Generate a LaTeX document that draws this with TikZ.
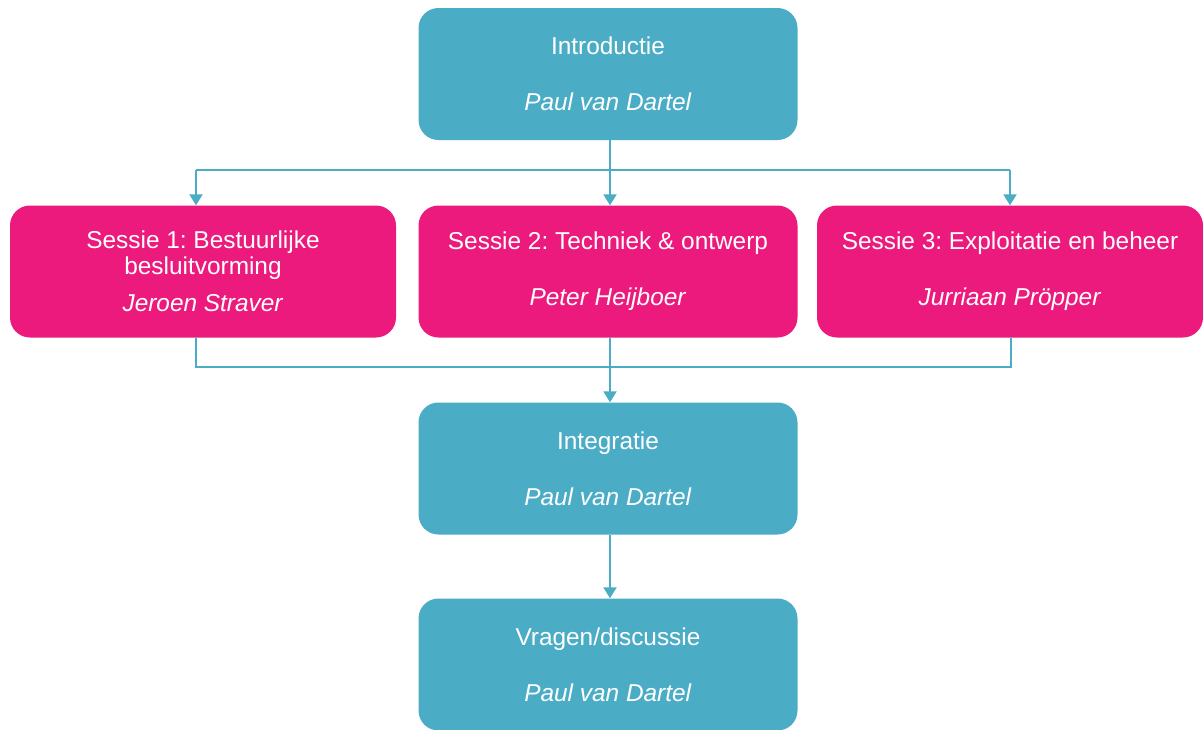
\documentclass[tikz,border=0pt]{standalone}
\usepackage{fontspec}
\setmainfont{Liberation Sans}
\usetikzlibrary{arrows.meta}
\definecolor{tealbox}{RGB}{75,172,198}
\definecolor{pinkbox}{RGB}{236,26,124}
\frenchspacing
\begin{document}
\begin{tikzpicture}[x=1pt,y=-1pt,
  box/.style={rounded corners=20pt, minimum width=379pt, minimum height=132pt,
    text=white, align=center, font=\fontsize{24.4}{26}\selectfont\frenchspacing, inner sep=0pt},
  bluebx/.style={box, fill=tealbox},
  pinkbx/.style={box, fill=pinkbox},
  conn/.style={draw=tealbox, line width=2pt},
  arr/.style={conn, -{Triangle[width=13pt,length=11pt]}}]
\useasboundingbox (0,0) rectangle (1203,729);
\clip (0,0) rectangle (1203,729);
\fill[white] (0,0) rectangle (1203,729);

\node[bluebx] (intro) at (608,74) {Introductie\\[30pt]\textit{Paul van Dartel}};
\node[pinkbx, minimum width=386pt] (s1) at (203,271.5) {Sessie 1: Bestuurlijke\\besluitvorming\\[11pt]\textit{Jeroen Straver}};
\node[pinkbx] (s2) at (608,271.5) {Sessie 2: Techniek \& ontwerp\\[30pt]\textit{Peter Heijboer}};
\node[pinkbx, minimum width=386pt] (s3) at (1010,271.5) {Sessie 3: Exploitatie en beheer\\[30pt]\textit{Jurriaan Pr\"opper}};
\node[bluebx] (integ) at (608,468.5) {Integratie\\[30pt]\textit{Paul van Dartel}};
\node[bluebx] (vragen) at (608,664.5) {Vragen/discussie\\[30pt]\textit{Paul van Dartel}};

\coordinate (split) at (610,170);
\coordinate (busL) at (196,170);
\coordinate (busR) at (1010,170);
\coordinate (join) at (610,367);
\coordinate (joinL) at (196,367);
\coordinate (joinR) at (1011,367);

\draw[conn] (intro.south -| split) -- (split);
\draw[conn] (busL) -- (busR);
\draw[arr] (busL) -- (s1.north -| busL);
\draw[arr] (split) -- (s2.north -| split);
\draw[arr] (busR) -- (s3.north -| busR);

\draw[conn] (s1.south -| joinL) -- (joinL) -- (joinR) -- (s3.south -| joinR);
\draw[arr] (s2.south -| join) -- (integ.north -| join);
\draw[arr] (integ.south -| join) -- (vragen.north -| join);
\end{tikzpicture}
\end{document}
